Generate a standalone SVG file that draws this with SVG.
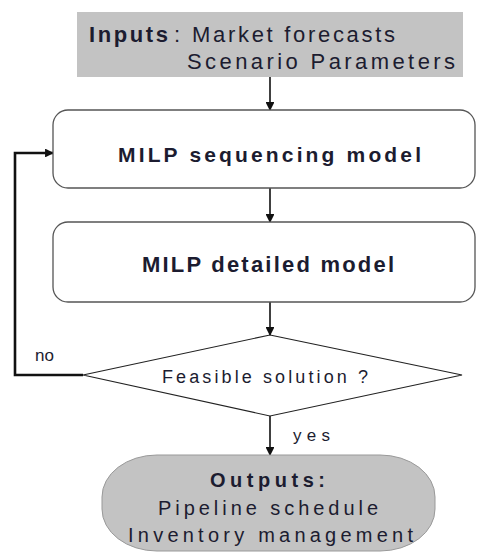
<svg xmlns="http://www.w3.org/2000/svg" width="477" height="552" viewBox="0 0 477 552">
<style>
.t{font-family:"Liberation Sans",Arial,sans-serif;fill:#1c1c30}
.b{font-weight:bold}
.box{fill:#fff;stroke:#555;stroke-width:1.3}
.ln{stroke:#111;stroke-width:1.6;fill:none}
</style>
<defs>
<marker id="ah" viewBox="0 0 10 10" refX="9" refY="5" markerWidth="5.5" markerHeight="5.5" orient="auto" markerUnits="strokeWidth">
<path d="M0,0 L10,5 L0,10 z" fill="#111"/>
</marker>
<marker id="ah2" viewBox="0 0 10 10" refX="9" refY="5" markerWidth="3.4" markerHeight="3.4" orient="auto" markerUnits="strokeWidth">
<path d="M0,0 L10,5 L0,10 z" fill="#111"/>
</marker>
</defs>
<rect width="477" height="552" fill="#fff"/>
<g id="connectors">
<line class="ln" x1="270" y1="77" x2="270" y2="110" marker-end="url(#ah)"/>
<line class="ln" x1="270" y1="188" x2="270" y2="222" marker-end="url(#ah)"/>
<line class="ln" x1="270" y1="302" x2="270" y2="335" marker-end="url(#ah)"/>
<line class="ln" x1="270" y1="416" x2="270" y2="455" marker-end="url(#ah)"/>
<path d="M83,375 H15 V153 H53" fill="none" stroke="#111" stroke-width="2.6" marker-end="url(#ah2)"/>
<text class="t" x="35" y="361" font-size="17">no</text>
<text class="t" x="293" y="441" font-size="17" textLength="37" lengthAdjust="spacing">yes</text>
</g>
<g id="inputs">
<rect x="77" y="12" width="386" height="65" fill="#c3c3c3"/>
<text class="t" y="42" font-size="22"><tspan class="b" x="89" textLength="79" lengthAdjust="spacing">Inputs</tspan><tspan x="174">:</tspan><tspan x="192" textLength="203" lengthAdjust="spacing">Market forecasts</tspan></text>
<text class="t" x="187" y="69" font-size="22" textLength="268" lengthAdjust="spacing">Scenario Parameters</text>
</g>
<g id="sequencing">
<rect class="box" x="53" y="110" width="422" height="78" rx="15"/>
<text class="t b" x="118" y="162" font-size="21" textLength="303" lengthAdjust="spacing">MILP sequencing model</text>
</g>
<g id="detailed">
<rect class="box" x="53" y="222" width="422" height="80" rx="15"/>
<text class="t b" x="142" y="272" font-size="22" textLength="252" lengthAdjust="spacing">MILP detailed model</text>
</g>
<g id="decision">
<polygon points="270,335 462,375 270,416 83,375" fill="#fff" stroke="#222" stroke-width="1.2"/>
<text class="t" x="162" y="383" font-size="18" textLength="206" lengthAdjust="spacing">Feasible solution ?</text>
</g>
<g id="outputs">
<rect x="102" y="455" width="333" height="96" rx="55" ry="42" fill="#c3c3c3" stroke="#999" stroke-width="1"/>
<text class="t b" x="210" y="487" font-size="20" textLength="115" lengthAdjust="spacing">Outputs:</text>
<text class="t" x="158" y="515" font-size="20" textLength="220" lengthAdjust="spacing">Pipeline schedule</text>
<text class="t" x="128" y="542" font-size="20" textLength="285" lengthAdjust="spacing">Inventory management</text>
</g>
</svg>
